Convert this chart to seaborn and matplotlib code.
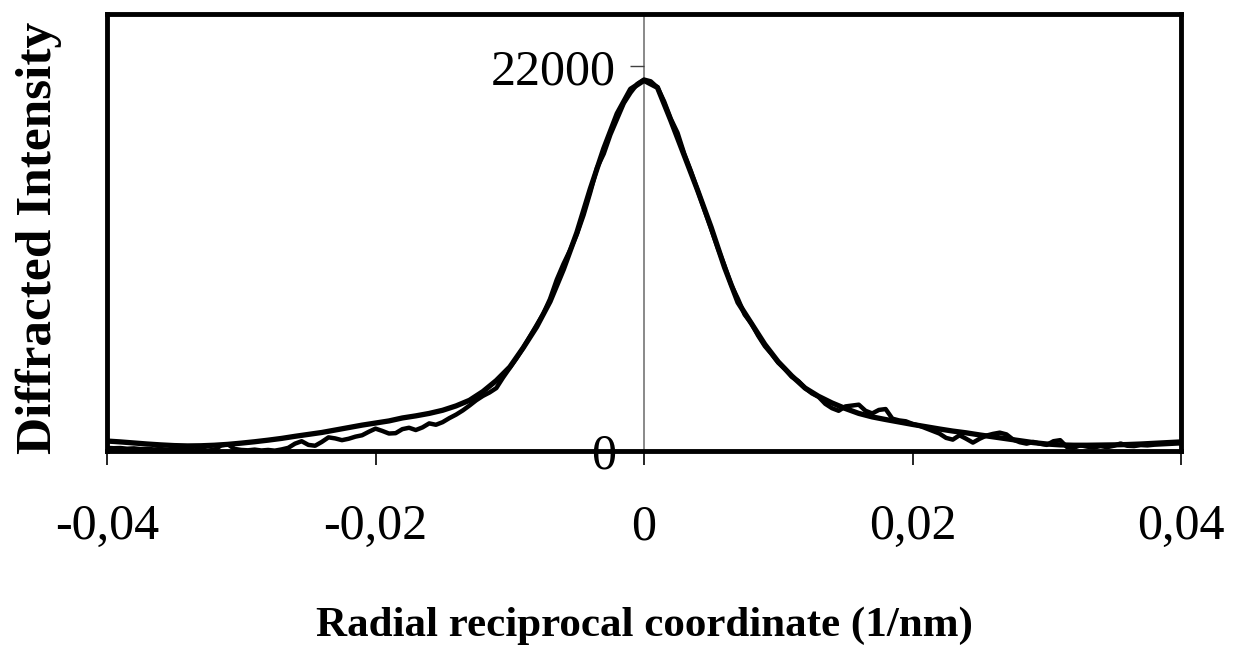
import numpy as np
import seaborn as sns
import matplotlib.pyplot as plt

# fitted profile, every 0.001 1/nm from -0.04 to 0.04
fit_intensity = [570, 520, 460, 400, 350, 310, 290, 300, 330, 380,
                 450, 530, 620, 720, 840, 950, 1060, 1200, 1340, 1480,
                 1600, 1720, 1890, 2010, 2150, 2330, 2580, 2900, 3400, 4030,
                 4800, 5900, 7100, 8550, 10400, 12500, 15000, 17300, 19300, 20700,
                 21200,
                 20800, 18900, 16900, 14900, 12800, 10500, 8500, 7300, 6100, 5100,
                 4300, 3600, 3130, 2750, 2430, 2150, 1950, 1800, 1660, 1520,
                 1390, 1260, 1140, 1040, 920, 810, 700, 590, 480, 400,
                 350, 330, 330, 340, 350, 370, 400, 440, 480, 520]

# measured profile (noisy), read every 0.0005 1/nm from -0.04 to 0.04
measured_intensity = [180, 160, 170, 130, 150, 110, 120, 90, 110, 70,
                      90, 60, 80, 40, 70, 30, 60, 320, 380, 120,
                      60, 40, 80, 30, 60, 20, 90, 180, 420, 560,
                      350, 300, 520, 780, 720, 620, 700, 820, 900, 1100,
                      1280, 1150, 1000, 1020, 1250, 1330, 1200, 1350, 1580, 1500,
                      1650, 1880, 2080, 2320, 2600, 2900, 3150, 3350, 3600, 4200,
                      4750, 5300, 5900, 6550, 7200, 7850, 8700, 9800, 10700, 11500,
                      12400, 13500, 14800, 16200, 17000, 18100, 19000, 19900, 20500, 21000,
                      21250,
                      21150, 20800, 20000, 19000, 18200, 17000, 16000, 14900, 13800, 12700,
                      11600, 10600, 9500, 8700, 7800, 7300, 6600, 6000, 5550, 5050,
                      4700, 4250, 4000, 3600, 3300, 3100, 2700, 2450, 2300, 2550,
                      2600, 2650, 2300, 2150, 2350, 2400, 1850, 1750, 1700, 1550,
                      1450, 1300, 1150, 1000, 750, 650, 900, 700, 480, 700,
                      880, 980, 1050, 950, 650, 500, 420, 520, 420, 350,
                      560, 620, 230, 180, 330, 250, 200, 280, 220, 300,
                      430, 300, 280, 340, 320, 360, 380, 400, 420, 440]

# sampling grids of the two profiles
fit_q = np.linspace(-0.04, 0.04, len(fit_intensity))
measured_q = np.linspace(-0.04, 0.04, len(measured_intensity))

x_ticks = [-0.04, -0.02, 0, 0.02, 0.04]
x_tick_labels = ["-0,04", "-0,02", "0", "0,02", "0,04"]
y_ticks = [0, 22000]
y_tick_labels = ["0", "22000"]

sns.set_style("white")
plt.rcParams["font.family"] = ["Liberation Serif", "DejaVu Serif"]
plt.rcParams["text.color"] = "black"
plt.rcParams["axes.labelcolor"] = "black"
plt.rcParams["xtick.color"] = "black"
plt.rcParams["ytick.color"] = "black"

fig = plt.figure(figsize=(12.34, 6.57), dpi=100)
ax = fig.add_axes([107 / 1234, 1 - 451 / 657, 1074 / 1234, 437 / 657])

sns.lineplot(x=measured_q, y=measured_intensity, ax=ax, color="black", lw=3.2,
             solid_joinstyle="round")
sns.lineplot(x=fit_q, y=fit_intensity, ax=ax, color="black", lw=3.8,
             solid_joinstyle="round")

ax.set_xlim(-0.04, 0.04)
ax.set_ylim(0, 25000)

for s in ax.spines.values():
    s.set_color("black")
    s.set_linewidth(3.5)

ax.set_xticks(x_ticks)
ax.set_xticklabels(x_tick_labels, fontsize=36)
ax.tick_params(axis="x", direction="out", length=10, width=1.2, color="black", pad=28, bottom=True)
ax.set_yticks([])

# y axis drawn at q = 0
ax.axvline(0, color="#808080", lw=1.3, zorder=0)
sec = ax.secondary_yaxis(0.5)
sec.set_alignment("left")
sec.spines["left"].set_visible(False)
sec.set_yticks(y_ticks)
sec.set_yticklabels(y_tick_labels, fontsize=36)
sec.tick_params(axis="y", direction="out", length=10, width=1.0, color="#404040", pad=10)

ax.set_xlabel("Radial reciprocal coordinate (1/nm)", fontsize=31, fontweight="bold")
ax.xaxis.set_label_coords(0.5, -0.355)
ax.set_ylabel("Diffracted Intensity", fontsize=37, fontweight="bold")
ax.yaxis.set_label_coords(-0.042, 0.487)

fig.savefig("out.png", dpi=100)
